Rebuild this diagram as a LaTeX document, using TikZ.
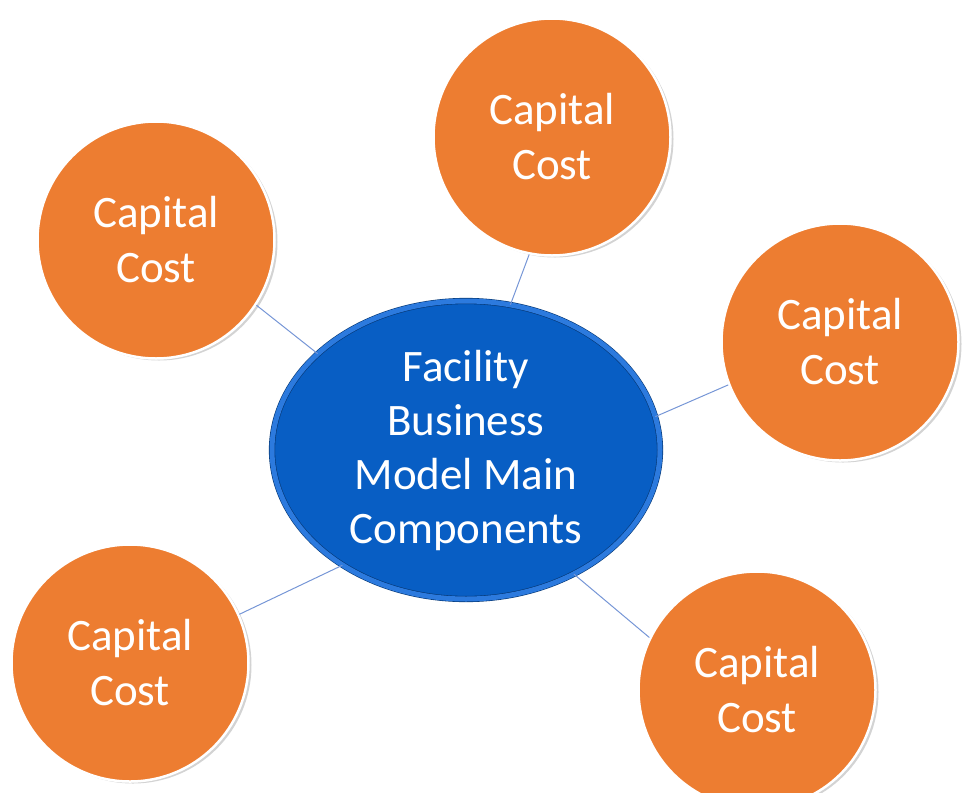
\documentclass[tikz,border=0pt]{standalone}
\usepackage{fontspec}
\setmainfont{Carlito}
\usetikzlibrary{shapes.geometric,shadows}
\definecolor{costorange}{RGB}{237,125,49}
\definecolor{hubblue}{RGB}{8,94,196}
\definecolor{rimblue}{RGB}{44,122,222}
\definecolor{edgeblue}{RGB}{118,150,214}
\begin{document}
\begin{tikzpicture}
[x=1pt,y=-1pt,
  costdecorate/.style={shape=circle,minimum size=237pt,inner sep=0pt,
    fill=costorange,draw=white,line width=2.5pt,text=white,align=center,
    font=\fontsize{45}{55}\selectfont,
    drop shadow={opacity=0.35,shadow xshift=3pt,shadow yshift=-2pt}},%
  hubdecorate/.style={shape=ellipse,minimum width=388pt,minimum height=298pt,
    inner sep=0pt,fill=hubblue,draw=hubblue!60!black,double=rimblue,
    double distance=5pt,line width=0.6pt,text=white,align=center,
    font=\fontsize{45}{54}\selectfont,
    drop shadow={opacity=0.45,shadow xshift=2pt,shadow yshift=-2pt}},%
  linedecorate/.style={-,draw=edgeblue,line width=1pt}]
\useasboundingbox (0,0) rectangle (962,793);
%% central node
\node (hub) at (466,450) [hubdecorate]
  {Facility\\Business\\Model Main\\Components};
%% cost circles
\foreach \nodename/\x/\y in {
  ctop/552/137, cleft/156/240, cright/840/342,
  cbotleft/130/663, cbotright/757/690} {
  \node (\nodename) at (\x,\y) [costdecorate] {Capital\\Cost};
}
%% edges or lines
\foreach \startnode/\startangle/\endnode/\endangle in {
  hub/73/ctop/259, hub/147/cleft/327, hub/10/cright/201,
  hub/223/cbotleft/24, hub/311/cbotright/154} {
  \draw[linedecorate] (\startnode.\startangle) -- (\endnode.\endangle);
}
\end{tikzpicture}
\end{document}
